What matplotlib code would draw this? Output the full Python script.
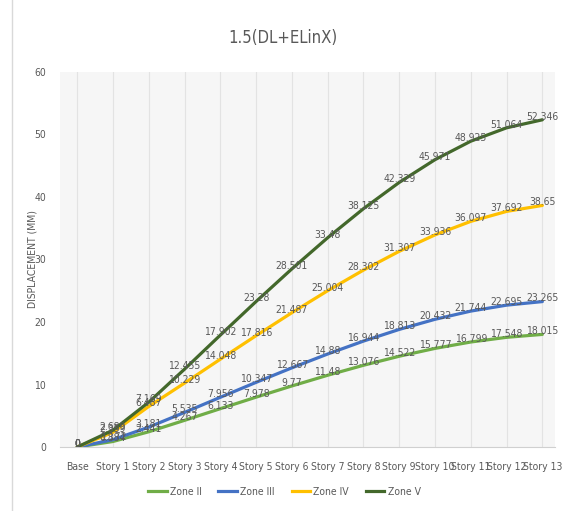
#!/usr/env/python
# Storey displacement, 1.5(DL+ELinX)
import numpy as np
from matplotlib import pyplot as plt
from matplotlib.lines import Line2D

plt.rcParams['font.family'] = ['DejaVu Sans']
plt.rcParams['font.stretch'] = 'condensed'

stories = ['Base', 'Story 1', 'Story 2', 'Story 3', 'Story 4', 'Story 5', 'Story 6',
           'Story 7', 'Story 8', 'Story 9', 'Story 10', 'Story 11', 'Story 12', 'Story 13']
zone2 = [0, 0.884, 2.441, 4.267, 6.133, 7.978, 9.77, 11.48, 13.076, 14.522, 15.777, 16.799, 17.548, 18.015]
zone3 = [0, 1.172, 3.181, 5.535, 7.956, 10.347, 12.667, 14.88, 16.944, 18.813, 20.432, 21.744, 22.695, 23.265]
zone4 = [0, 2.359, 6.487, 10.229, 14.048, 17.816, 21.487, 25.004, 28.302, 31.307, 33.936, 36.097, 37.692, 38.65]
zone5 = [0, 2.689, 7.169, 12.455, 17.902, 23.28, 28.501, 33.48, 38.125, 42.329, 45.971, 48.925, 51.064, 52.346]

series = [('Zone II', zone2, '#70AD47'),
          ('Zone III', zone3, '#4472C4'),
          ('Zone IV', zone4, '#FFC000'),
          ('Zone V', zone5, '#43682B')]

fig = plt.figure(figsize=(5.63, 5.11), dpi=100)
ax = fig.add_axes([0.1066, 0.1252, 0.879, 0.734])
ax.set_facecolor('#f6f6f6')

x = np.arange(len(stories))
for name, vals, col in series:
    ax.plot(x, vals, color=col, lw=2.3, solid_capstyle='round', zorder=3)
    for xi, v in zip(x, vals):
        lbl = '{:g}'.format(v)
        ax.text(xi, v + 0.5, lbl, ha='center', va='center', fontsize=7.5,
                color='#595959', zorder=4)

# axis limits and ticks
ax.set_xlim(-0.48, 13.35)
ax.set_ylim(0, 60)
ax.set_xticks(x)
ax.set_xticklabels(stories)
ax.set_yticks(np.arange(0, 61, 10))
ax.tick_params(axis='x', labelsize=7.5, colors='#595959', length=0, pad=11)
ax.tick_params(axis='y', labelsize=7.5, colors='#595959', length=0, pad=10)

# vertical grid only
ax.grid(axis='x', color='#e3e3e3', lw=0.8)
ax.set_axisbelow(True)
for s in ['top', 'right', 'left']:
    ax.spines[s].set_visible(False)
ax.spines['bottom'].set_color('#d0d0d0')

ax.set_ylabel('DISPLACEMENT (MM)', fontsize=7.5, color='#595959')
ax.yaxis.set_label_coords(-0.045, 0.5)

fig.text(0.503, 0.925, '1.5(DL+ELinX)', ha='center', va='center', fontsize=12, color='#595959')

# legend at bottom
handles = [Line2D([0], [0], color=c, lw=2.3) for _, _, c in series]
fig.legend(handles, [n for n, _, _ in series], loc='center', bbox_to_anchor=(0.505, 0.037),
           ncol=4, frameon=False, fontsize=7.5, labelcolor='#595959',
           handlelength=1.8, handletextpad=0.3, columnspacing=1.6)

# chart border line on the left
fig.add_artist(Line2D([0.021, 0.021], [0.0, 1.0], color='#d9d9d9', lw=1, transform=fig.transFigure))

plt.savefig('out.png', dpi=100)
